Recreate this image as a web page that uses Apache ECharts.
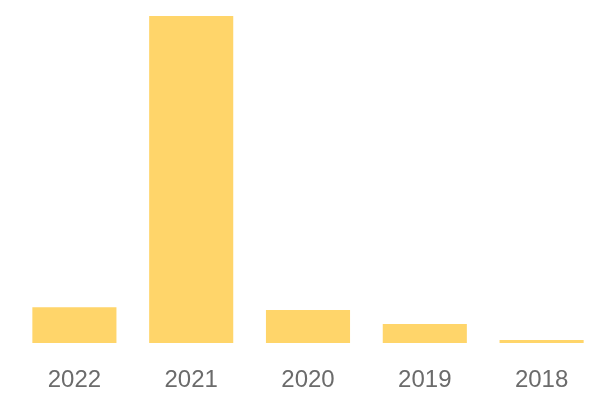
<!DOCTYPE html>
<html><head><meta charset="utf-8">
<script src="https://cdn.jsdelivr.net/npm/echarts@6/dist/echarts.min.js"></script>
<style>html,body{margin:0;padding:0;background:#fff}#c{width:600px;height:400px}</style>
</head><body><div id="c"></div>
<script>
const categories = ['2022', '2021', '2020', '2019', '2018'];
const values = [10.9, 100, 10.1, 5.8, 0.9];

const chart = echarts.init(document.getElementById('c'), null, {renderer: 'canvas'});
chart.setOption({
  animation: false,
  grid: {left: 16, right: 0, top: 16, bottom: 57, containLabel: false},
  xAxis: {
    type: 'category', data: categories,
    axisLine: {show: false}, axisTick: {show: false},
    axisLabel: {color: '#6b6b6b', fontSize: 24, fontFamily: 'Liberation Sans', margin: 25}
  },
  yAxis: {type: 'value', min: 0, max: 'dataMax', show: false, splitLine: {show: false}},
  series: [{
    type: 'bar', data: values, barCategoryGap: '28%',
    itemStyle: {color: '#FFD56A'}
  }]
});
</script></body></html>
